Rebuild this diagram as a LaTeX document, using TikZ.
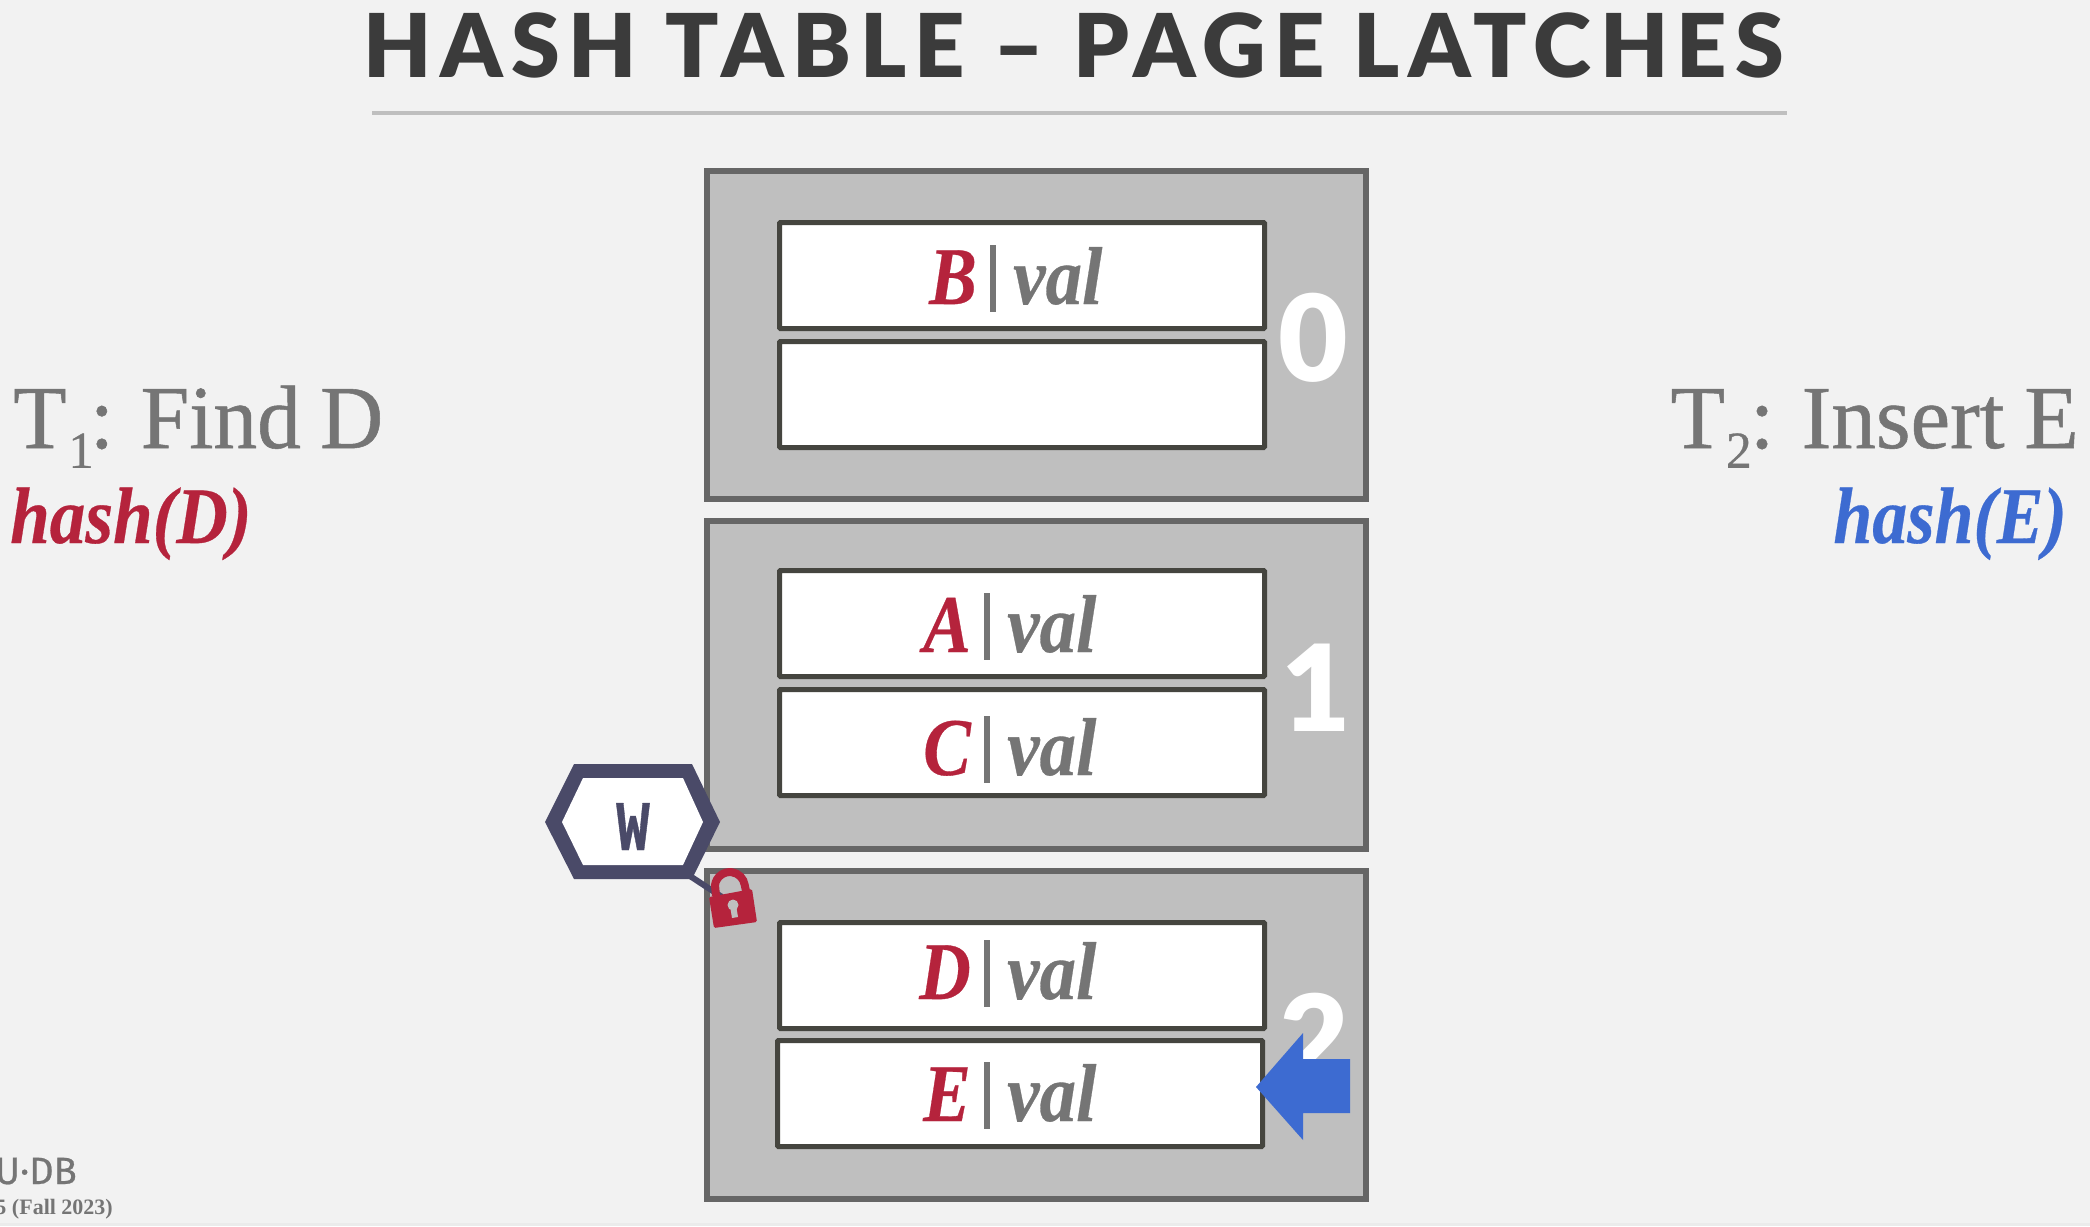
\documentclass[tikz,border=0pt]{standalone}
\usepackage{fontspec}
\setmainfont{Liberation Serif}
\newfontfamily\titlefont[LetterSpace=9.6]{Lato Black}
\newfontfamily\numfont{Lato Black}
\newfontfamily\logofont[FakeBold=0.6]{Fira Sans}
\newfontfamily\monofont[BoldFeatures={FakeBold=0.6}]{Liberation Mono}
\newfontfamily\bigfont[FakeBold=0.6]{Liberation Serif}
\newfontfamily\keyfont[BoldItalicFeatures={FakeBold=0.4}]{Liberation Serif}
\definecolor{bgc}{HTML}{F2F2F2}
\definecolor{boxc}{HTML}{BFBFBF}
\definecolor{edgec}{HTML}{666666}
\definecolor{cellc}{HTML}{45453F}
\definecolor{greyt}{HTML}{757575}
\definecolor{redc}{HTML}{B5233C}
\definecolor{bluec}{HTML}{3D6BD1}
\definecolor{hexc}{HTML}{4A4A68}
\definecolor{titlec}{HTML}{3B3B3B}
\tikzset{
 page/.style={draw=edgec,line width=6pt,fill=boxc,minimum width=659pt,minimum height=328pt,inner sep=0pt,outer sep=0pt,anchor=north west},
 cell/.style={draw=cellc,line width=5pt,fill=white,rounded corners=1pt,minimum width=485pt,minimum height=106pt,inner sep=0pt,outer sep=0pt,anchor=north west},
 pagenum/.style={text=white,inner sep=0pt,anchor=base,font=\numfont\fontsize{120}{120}\selectfont},
 keytxt/.style={text=redc,inner sep=0pt,anchor=base east,font=\keyfont\bfseries\itshape\fontsize{82}{82}\selectfont},
 valtxt/.style={text=greyt,inner sep=0pt,anchor=base west,font=\keyfont\bfseries\itshape\fontsize{82}{82}\selectfont},
 bigtxt/.style={text=greyt,inner sep=0pt,font=\bigfont\fontsize{90}{90}\selectfont},
 hashtxt/.style={inner sep=0pt,font=\keyfont\bfseries\itshape\fontsize{80}{80}\selectfont},
}
\newcommand{\tightwords}{\spaceskip=20pt\relax}
\newcommand{\rowtext}[4]{%
 \node[keytxt] (k#1) at (#2-16,#3) {\scalebox{0.87}[1]{#4}};
 \fill[greyt] (#2-3,#3-59) rectangle (#2+3,#3+8);
 \node[valtxt] (v#1) at (#2+20,#3) {\scalebox{0.89}[1]{val}};
}
\begin{document}
\begin{tikzpicture}[x=1pt,y=-1pt]
\useasboundingbox (0,0) rectangle (2090,1226);
\fill[bgc] (0,0) rectangle (2090,1226);
\fill[black!8] (0,1223) rectangle (2090,1226);
\node[anchor=base,inner sep=0pt,text=titlec,font=\titlefont\fontsize{88}{88}\selectfont] (title) at (1074,77) {HASH TABLE – PAGE LATCHES};
\coordinate (ruleL) at (372,113);
\coordinate (ruleR) at (1787,113);
\draw[boxc,line width=4pt] (ruleL) -- (ruleR);
\node[page] (p0) at (707,171) {};
\node[page] (p1) at (707,521) {};
\node[page] (p2) at (707,871) {};
\node[cell] (c1) at (779.5,222.5) {};
\node[cell] (c2) at (779.5,341.5) {};
\node[cell] (c3) at (779.5,570.5) {};
\node[cell] (c4) at (779.5,689.5) {};
\node[cell] (c5) at (779.5,922.5) {};
\node[cell] (c6) at (777.5,1040.5) {};
\node[pagenum] (n0) at (1313,381) {0};
\node[pagenum] (n1) at (1316,731) {1};
\node[pagenum] (n2) at (1314,1081) {2};
\rowtext{b}{993}{304}{B}
\rowtext{a}{987}{652}{A}
\rowtext{c}{987}{775}{C}
\rowtext{d}{987}{999}{D}
\rowtext{e}{987}{1121}{E}
\node[bigtxt,anchor=base west] (t1) at (13,448) {\tightwords\scalebox{0.97}[1]{T\kern2pt\raisebox{-0.22em}{\fontsize{52}{52}\selectfont 1}\kern-4pt: Find D}};
\node[hashtxt,anchor=base west,text=redc] (h1) at (10,543) {\scalebox{0.89}[1]{hash(D)}};
\node[bigtxt,anchor=base east] (t2) at (2079,448) {\tightwords\scalebox{0.99}[1]{T\kern1pt\raisebox{-0.22em}{\fontsize{52}{52}\selectfont 2}\kern-2pt: Insert E}};
\node[hashtxt,anchor=base east,text=bluec] (h2) at (2067,543) {\scalebox{0.875}[1]{hash(E)}};
% arrow
\fill[bluec] (1256,1087) -- (1303,1033) -- (1303,1059) -- (1350,1059) -- (1350,1113) -- (1303,1113) -- (1303,1140) -- cycle;
% connector, hexagon, lock
\coordinate (hexfoot) at (690,876);
\coordinate (lockfoot) at (722,897);
\draw[hexc,line width=6pt] (hexfoot) -- (lockfoot);
\fill[hexc] (545,822) -- (574,764) -- (692,764) -- (720,822) -- (692,879) -- (574,879) -- cycle;
\fill[white] (562,822) -- (583,778) -- (683,778) -- (703,822) -- (683,865) -- (583,865) -- cycle;
\node[inner sep=0pt,anchor=base,text=hexc,font=\monofont\bfseries\fontsize{62}{62}\selectfont] (w) at (633,850) {\scalebox{0.9}[1.15]{W}};
% lock
\draw[redc,line width=8pt] (716,896) -- (715,885) arc[start angle=188,end angle=352,x radius=15,y radius=15] -- (746,891);
\fill[redc,rounded corners=1.5pt] (709,897) -- (752,889) -- (757,922) -- (714,928) -- cycle;
\fill[boxc] (733,905) circle (5.5pt);
\fill[boxc] (730,906) -- (736,905) -- (738,917) -- (732,918) -- cycle;
% footer
\node[anchor=base east,inner sep=0pt,text=greyt,font=\logofont\fontsize{38}{38}\selectfont] (logo) at (77,1184) {U·DB};
\node[anchor=base east,inner sep=0pt,text=greyt,font=\bfseries\fontsize{22}{22}\selectfont] (foot) at (113,1214) {5 (Fall 2023)};
\end{tikzpicture}
\end{document}
